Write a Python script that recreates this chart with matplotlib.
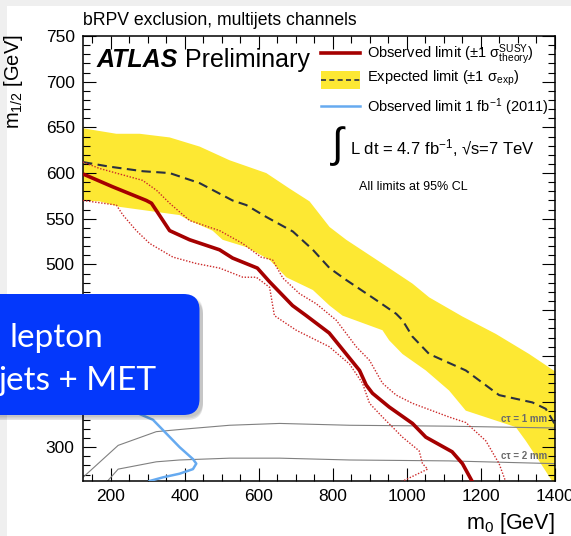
import matplotlib
matplotlib.use("Agg")
import matplotlib.pyplot as plt
from matplotlib.lines import Line2D
from matplotlib.patches import Rectangle, FancyBboxPatch
from matplotlib.ticker import MultipleLocator

plt.rcParams['font.family'] = ['Liberation Sans', 'DejaVu Sans']
plt.rcParams['mathtext.fontset'] = 'custom'
plt.rcParams['mathtext.rm'] = 'Liberation Sans'
plt.rcParams['mathtext.it'] = 'Liberation Sans:italic'
plt.rcParams['mathtext.bf'] = 'Liberation Sans:bold'

# ---------------- data ----------------
obs_m0 = [125, 205, 296, 310, 328, 359, 413, 494, 529, 596, 629, 691, 728, 790,
          836, 872, 890, 907, 952, 1015, 1051, 1122, 1150, 1177]
obs_m12 = [599, 585, 570, 567, 556, 537, 527, 516, 507, 496, 481, 455, 444, 425,
           402, 384, 368, 359, 344, 326, 311, 295, 282, 262]

obs_up_m0 = [125, 170, 286, 324, 359, 413, 494, 556, 606, 637, 665, 710, 755, 809,
             863, 899, 934, 971, 1015, 1114, 1159, 1213, 1249, 1267]
obs_up_m12 = [612, 605, 592, 581, 567, 548, 537, 523, 508, 505, 485, 468, 457, 439,
              410, 395, 370, 357, 348, 333, 327, 307, 282, 262]

obs_dn_m0 = [125, 215, 233, 269, 305, 368, 431, 494, 557, 593, 629, 642, 701, 790,
             845, 880, 899, 934, 988, 1033, 1042, 1056, 984]
obs_dn_m12 = [570, 565, 554, 537, 523, 508, 501, 496, 486, 486, 475, 444, 428, 410,
              391, 370, 348, 333, 311, 296, 282, 276, 262]

exp_m0 = [125, 197, 287, 359, 440, 529, 566, 620, 692, 746, 791, 836, 917, 971,
          988, 1015, 1060, 1159, 1249, 1339, 1375, 1400]
exp_m12 = [612, 607, 602, 600, 589, 570, 565, 552, 536, 516, 496, 483, 461, 446,
           439, 421, 402, 384, 357, 349, 342, 325]

band_up_m0 = [125, 170, 215, 278, 359, 440, 521, 620, 683, 737, 791, 836, 926,
              1015, 1060, 1150, 1240, 1330, 1400]
band_up_m12 = [649, 646, 643, 643, 639, 629, 614, 600, 583, 569, 541, 527, 503,
               479, 464, 443, 424, 402, 383]
band_dn_m0 = [125, 170, 224, 314, 386, 413, 475, 502, 566, 629, 674, 746, 791, 826,
              934, 952, 988, 1051, 1114, 1159, 1294, 1321, 1357, 1400]
band_dn_m12 = [570, 569, 563, 558, 554, 548, 537, 527, 519, 505, 486, 472, 455, 444,
               428, 417, 402, 384, 362, 340, 322, 307, 285, 258]

old_m0 = [230, 274, 314, 350, 386, 422, 431, 422, 386, 341, 305]
old_m12 = [345, 337, 330, 315, 300, 287, 282, 276, 271, 267, 263]

ct1_m0 = [125, 220, 323, 404, 521, 656, 845, 1114, 1400]
ct1_m12 = [267, 302, 317, 320, 324, 326, 324, 323, 321]
ct2_m0 = [187, 220, 323, 386, 521, 656, 845, 1114, 1400]
ct2_m12 = [261, 276, 284, 286, 288, 288, 286, 285, 282]

# ---------------- figure ----------------
W, H = 571, 536
fig = plt.figure(figsize=(W / 100, H / 100), dpi=100, facecolor='#efefef')
fig.add_artist(Rectangle((7 / 100, 0), (W - 7) / 100, (H - 6) / 100,
                         transform=fig.dpi_scale_trans, facecolor='white',
                         edgecolor='none', zorder=-5))

ax = fig.add_axes([83 / W, 1 - 481 / H, (555 - 83) / W, (481 - 36) / H])
ax.set_facecolor('white')

band_x = band_up_m0 + band_dn_m0[::-1]
band_y = band_up_m12 + band_dn_m12[::-1]
ax.fill(band_x, band_y, color='#fde833', lw=0, zorder=1)

ax.plot(exp_m0, exp_m12, color='#2a3040', lw=1.5, dashes=(4.5, 2.6), zorder=3)
ax.plot(obs_up_m0, obs_up_m12, color='#cc2a2a', lw=1.0, ls=(0, (1, 1.2)), zorder=3)
ax.plot(obs_dn_m0, obs_dn_m12, color='#cc2a2a', lw=1.0, ls=(0, (1, 1.2)), zorder=3)
ax.plot(obs_m0, obs_m12, color='#a50000', lw=2.6, zorder=4, solid_capstyle='butt')
ax.plot(ct1_m0, ct1_m12, color='#808080', lw=0.8, zorder=2)
ax.plot(ct2_m0, ct2_m12, color='#808080', lw=0.8, zorder=2)
ax.plot(old_m0, old_m12, color='#66aaf0', lw=1.8, zorder=3)

ax.set_xlim(125, 1400)
ax.set_ylim(263, 750)
ax.xaxis.set_major_locator(MultipleLocator(200))
ax.xaxis.set_minor_locator(MultipleLocator(50))
ax.yaxis.set_major_locator(MultipleLocator(50))
ax.yaxis.set_minor_locator(MultipleLocator(10))
ax.tick_params(which='both', direction='in', top=True, right=True, width=0.8,
               labelsize=12.5)
ax.tick_params(which='major', length=9.5, pad=6)
ax.tick_params(which='minor', length=5)
for s in ax.spines.values():
    s.set_linewidth(1.1)

ax.set_xlabel(r'm$_0$ [GeV]', fontsize=15.5, loc='right')
ax.xaxis.set_label_coords(1.0, -0.068)
ax.set_ylabel(r'm$_{1/2}$ [GeV]', fontsize=14.5, loc='top')
ax.yaxis.set_label_coords(-0.123, 1.005)

# legend (hand placed like the original)
ta = ax.transAxes
ax.add_line(Line2D([0.5036, 0.5869], [0.961, 0.961], transform=ta,
                   color='#a50000', lw=2.6, clip_on=False))
ax.add_patch(Rectangle((0.5036, 0.8802), 0.0833, 0.0411, transform=ta,
                       facecolor='#fde833', edgecolor='none', clip_on=False))
ax.add_line(Line2D([0.5036, 0.5869], [0.9007, 0.9007], transform=ta,
                   color='#2a3040', lw=1.2, dashes=(3, 2), clip_on=False))
ax.add_line(Line2D([0.5036, 0.5869], [0.8427, 0.8427], transform=ta,
                   color='#66aaf0', lw=1.8, clip_on=False))
ax.text(0.6017, 0.950, r'Observed limit ($\pm$1 σ$^{\mathrm{SUSY}}_{\mathrm{theory}}$)',
        transform=ta, fontsize=10.5, va='baseline')
ax.text(0.6017, 0.897, r'Expected limit ($\pm$1 σ$_{\mathrm{exp}}$)',
        transform=ta, fontsize=10.5, va='baseline')
ax.text(0.6017, 0.830, r'Observed limit 1 fb$^{\mathrm{-1}}$ (2011)',
        transform=ta, fontsize=10.5, va='baseline')

ax.text(0.029, 0.930, 'ATLAS', transform=ta, fontsize=18, fontweight='bold',
        style='italic', va='baseline')
ax.text(0.216, 0.930, 'Preliminary', transform=ta, fontsize=18, va='baseline')

ax.text(0.527, 0.752, '∫', transform=ta, fontsize=30, va='center')
ax.text(0.566, 0.733, r'L dt = 4.7 fb$^{\mathrm{-1}}$, √s=7 TeV', transform=ta,
        fontsize=12, va='baseline')
ax.text(0.585, 0.654, 'All limits at 95% CL', transform=ta, fontsize=9,
        va='baseline')

ax.text(0.983, 0.139, 'cτ = 1 mm', transform=ta, fontsize=7, color='#6a6a6a',
        ha='right', va='center', fontweight='bold', zorder=5)
ax.text(0.983, 0.056, 'cτ = 2 mm', transform=ta, fontsize=7, color='#6a6a6a',
        ha='right', va='center', fontweight='bold', zorder=5)

fig.text(83 / W, 1 - 25 / H, 'bRPV exclusion, multijets channels', fontsize=12.7,
         va='baseline')

# blue overlay box from the slide
tr = fig.dpi_scale_trans
for i, a in enumerate([0.06, 0.08, 0.10]):
    d = 0.02 + 0.015 * i
    fig.add_artist(FancyBboxPatch((-0.3 + 0.03, (H - 415) / 100 - d),
                                  2.3, 1.21,
                                  boxstyle='round,pad=0,rounding_size=0.16',
                                  transform=tr, facecolor='black', alpha=a,
                                  edgecolor='none', zorder=4))
fig.add_artist(FancyBboxPatch((-0.3, (H - 415) / 100), 2.295, 1.21,
                              boxstyle='round,pad=0,rounding_size=0.16',
                              transform=tr, facecolor='#0438fb',
                              edgecolor='none', zorder=5))
fig.text(0.10, (H - 346.7) / 100, 'lepton', transform=tr, fontsize=24,
         color='white', family='Lato', va='baseline', zorder=6)
fig.text(-0.02, (H - 390) / 100, 'jets + MET', transform=tr, fontsize=24,
         color='white', family='Lato', va='baseline', zorder=6)

fig.savefig('out.png', dpi=100)
